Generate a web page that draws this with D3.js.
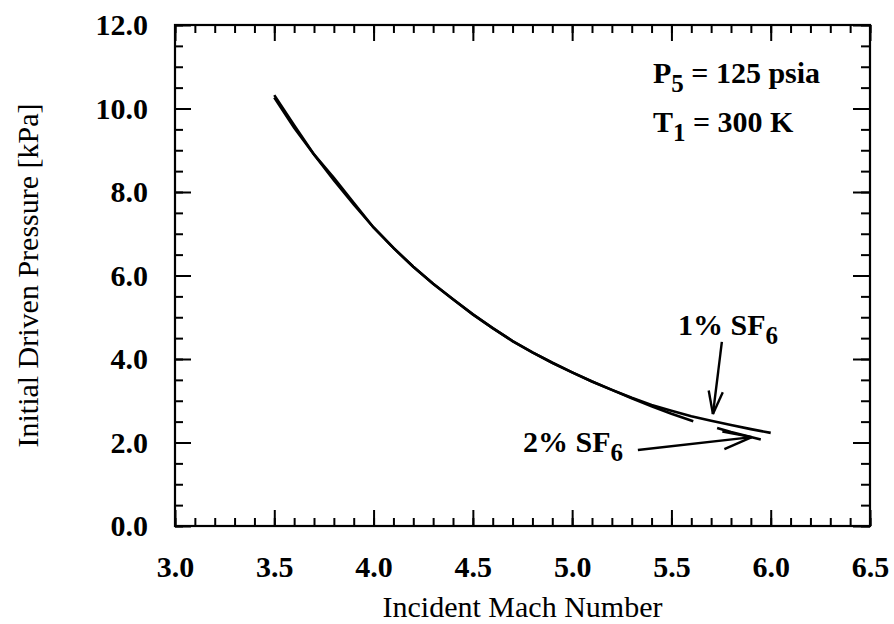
<!DOCTYPE html>
<html>
<head>
<meta charset="utf-8">
<script src="https://cdn.jsdelivr.net/npm/d3@7"></script>
<style>
  html, body { margin: 0; padding: 0; background: #fff; }
  svg { display: block; }
</style>
</head>
<body>
<svg id="chart" width="894" height="624"></svg>
<script>
// ---- data ----
const machTicks = [3.0, 3.5, 4.0, 4.5, 5.0, 5.5, 6.0, 6.5];
const pressureTicks = [0, 2, 4, 6, 8, 10, 12];

// 1% SF6 curve
const mach1 = [3.5, 3.6, 3.7, 3.8, 3.9, 4.0, 4.1, 4.2, 4.3, 4.4, 4.5, 4.6, 4.7, 4.8, 4.9, 5.0,
               5.1, 5.2, 5.3, 5.4, 5.5, 5.6, 5.7, 5.8, 5.9, 6.0];
const press1 = [10.26, 9.54, 8.90, 8.28, 7.70, 7.15, 6.66, 6.21, 5.80, 5.43, 5.07, 4.74, 4.43, 4.16, 3.91, 3.68,
                3.46, 3.26, 3.07, 2.90, 2.76, 2.63, 2.52, 2.42, 2.32, 2.23];

// 2% SF6 curve (gap where it is not visible in the reference)
const mach2 = [3.5, 3.6, 3.7, 3.8, 3.9, 4.0, 4.1, 4.2, 4.3, 4.4, 4.5, 4.6, 4.7, 4.8, 4.9, 5.0,
               5.1, 5.2, 5.3, 5.4, 5.5, 5.61, 5.67, 5.73, 5.8, 5.9, 5.95];
const press2 = [10.32, 9.60, 8.90, 8.34, 7.74, 7.15, 6.66, 6.21, 5.80, 5.43, 5.07, 4.74, 4.43, 4.16, 3.91, 3.68,
                3.46, 3.26, 3.06, 2.87, 2.69, 2.51, null, 2.35, 2.25, 2.13, 2.07];

// ---- layout ----
const svg = d3.select("#chart");
const L = 175, R = 870, T = 25, B = 526;
const serif = "'Liberation Serif', 'Times New Roman', Times, serif";

const x = d3.scaleLinear().domain([3.0, 6.5]).range([L, R]);
const y = d3.scaleLinear().domain([0, 12]).range([B, T]);

const xMinor = d3.range(3.0, 6.5001, 0.1).map(v => +v.toFixed(2));
const yMinor = d3.range(0, 12.0001, 0.5);

function styleAxis(g) {
  g.select(".domain").remove();
  g.selectAll(".tick line").attr("stroke", "#000").attr("stroke-width", 2);
  g.selectAll(".tick text")
    .attr("font-family", serif).attr("font-size", 30).attr("font-weight", "bold").attr("fill", "#000");
}

// bottom
svg.append("g").attr("transform", `translate(0,${B})`)
  .call(d3.axisBottom(x).tickValues(xMinor).tickSize(-8).tickFormat(""))
  .call(styleAxis);
svg.append("g").attr("transform", `translate(0,${B})`)
  .call(d3.axisBottom(x).tickValues(machTicks).tickSize(-16).tickPadding(30).tickFormat(d3.format(".1f")))
  .call(styleAxis);
// top
svg.append("g").attr("transform", `translate(0,${T})`)
  .call(d3.axisTop(x).tickValues(xMinor).tickSize(-8).tickFormat(""))
  .call(styleAxis);
svg.append("g").attr("transform", `translate(0,${T})`)
  .call(d3.axisTop(x).tickValues(machTicks).tickSize(-16).tickFormat(""))
  .call(styleAxis);
// left
svg.append("g").attr("transform", `translate(${L},0)`)
  .call(d3.axisLeft(y).tickValues(yMinor).tickSize(-8).tickFormat(""))
  .call(styleAxis);
const yAx = svg.append("g").attr("transform", `translate(${L},0)`)
  .call(d3.axisLeft(y).tickValues(pressureTicks).tickSize(-16).tickPadding(27).tickFormat(d3.format(".1f")))
  .call(styleAxis);
yAx.selectAll(".tick text").attr("dy", "0.33em");
// right
svg.append("g").attr("transform", `translate(${R},0)`)
  .call(d3.axisRight(y).tickValues(yMinor).tickSize(-9).tickFormat(""))
  .call(styleAxis);
svg.append("g").attr("transform", `translate(${R},0)`)
  .call(d3.axisRight(y).tickValues(pressureTicks).tickSize(-17).tickFormat(""))
  .call(styleAxis);

// frame
svg.append("rect").attr("x", L).attr("y", T).attr("width", R - L).attr("height", B - T)
  .attr("fill", "none").attr("stroke", "#000").attr("stroke-width", 2.2);

// curves
const line = d3.line().defined(d => d[1] !== null).x(d => x(d[0])).y(d => y(d[1]));
svg.append("path").datum(mach1.map((m, i) => [m, press1[i]]))
  .attr("d", line).attr("fill", "none").attr("stroke", "#000").attr("stroke-width", 2.6);
svg.append("path").datum(mach2.map((m, i) => [m, press2[i]]))
  .attr("d", line).attr("fill", "none").attr("stroke", "#000").attr("stroke-width", 2.6);

// arrows (open V heads)
function arrow(x0, y0, x1, y1, len, ang) {
  const px0 = x(x0), py0 = y(y0), px1 = x(x1), py1 = y(y1);
  const a = Math.atan2(py0 - py1, px0 - px1);
  const g = svg.append("g").attr("stroke", "#000").attr("stroke-width", 2.4).attr("fill", "none");
  g.append("line").attr("x1", px0).attr("y1", py0).attr("x2", px1).attr("y2", py1);
  [ang, -ang].forEach(t => {
    g.append("line").attr("x1", px1).attr("y1", py1)
      .attr("x2", px1 + len * Math.cos(a + t)).attr("y2", py1 + len * Math.sin(a + t));
  });
}
arrow(5.754, 4.41, 5.709, 2.68, 24, 0.3);
arrow(5.331, 1.82, 5.905, 2.13, 30, 0.3);

// text helper with subscript
function subText(px, py, main, sub, rest, anchor) {
  const t = svg.append("text").attr("x", px).attr("y", py)
    .attr("font-family", serif).attr("font-size", 30).attr("font-weight", "bold")
    .attr("text-anchor", anchor || "start").attr("fill", "#000");
  t.append("tspan").text(main);
  t.append("tspan").attr("dy", 9).attr("font-size", 25).text(sub);
  if (rest) t.append("tspan").attr("dy", -9).text(rest);
  return t;
}
subText(653, 83, "P", "5", " = 125 psia");
subText(653, 132, "T", "1", " = 300 K");
subText(678, 335, "1% SF", "6", null);
subText(623, 452, "2% SF", "6", null, "end");

// axis titles
svg.append("text").attr("x", (L + R) / 2).attr("y", 617).attr("text-anchor", "middle")
  .attr("font-family", serif).attr("font-size", 30).attr("fill", "#000")
  .text("Incident Mach Number");
svg.append("text").attr("transform", `translate(38,${(T + B) / 2}) rotate(-90)`)
  .attr("text-anchor", "middle")
  .attr("font-family", serif).attr("font-size", 30).attr("fill", "#000")
  .text("Initial Driven Pressure [kPa]");
</script>
</body>
</html>
